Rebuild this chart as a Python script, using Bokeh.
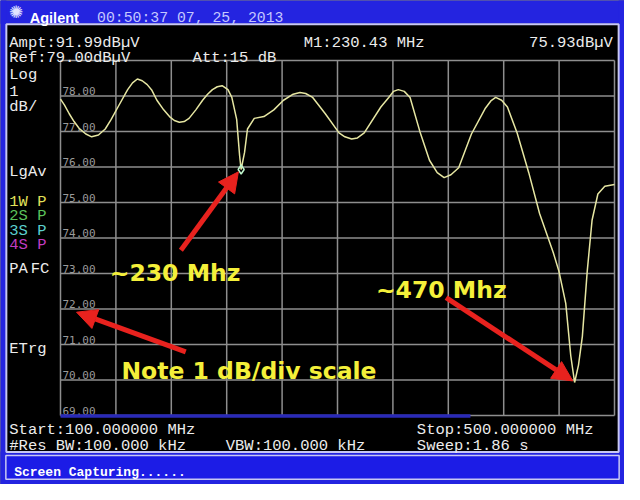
from bokeh.plotting import figure
from bokeh.models import Label, BoxAnnotation, Arrow, NormalHead, Range1d
from bokeh.embed import file_html
from bokeh.resources import INLINE
from bokeh.core.properties import value

# ---- data ----
freq_mhz = [100.0, 102.8, 106.3, 109.8, 113.4, 118.3, 122.5, 127.4, 132.3, 136.6,
            141.5, 148.5, 152.0, 155.5, 159.0, 162.6, 166.0, 169.6, 174.5, 178.7,
            182.2, 185.8, 189.3, 192.8, 197.7, 202.6, 206.2, 209.7, 213.2, 216.7,
            220.9, 223.7, 227.2, 229.3, 230.4, 232.9, 235.0, 239.9, 246.9, 254.0,
            261.0, 268.0, 272.9, 277.0, 282.1, 291.2, 301.1, 305.3, 310.2, 314.4,
            319.3, 331.3, 337.0, 340.4, 343.9, 348.2, 352.4, 359.4, 366.4, 372.0,
            377.0, 381.9, 387.5, 396.7, 406.5, 410.7, 414.2, 418.5, 422.7, 429.7,
            438.1, 445.9, 455.7, 459.9, 464.8, 468.4, 471.2, 474.0, 476.8, 480.3,
            483.8, 488.0, 493.0, 500.0]
level_dbuv = [77.91, 77.75, 77.50, 77.28, 77.09, 76.93, 76.85, 76.90, 77.07, 77.34,
              77.69, 78.18, 78.37, 78.48, 78.43, 78.32, 78.16, 77.88, 77.61, 77.42,
              77.31, 77.26, 77.28, 77.37, 77.61, 77.88, 78.05, 78.18, 78.26, 78.29,
              78.18, 77.96, 77.34, 76.33, 75.93, 76.41, 77.07, 77.37, 77.42, 77.61,
              77.88, 78.05, 78.10, 78.07, 77.96, 77.50, 76.96, 76.85, 76.79, 76.82,
              76.96, 77.69, 77.96, 78.13, 78.18, 78.13, 77.96, 77.01, 76.19, 75.84,
              75.70, 75.78, 75.98, 76.93, 77.64, 77.86, 77.96, 77.88, 77.69, 76.96,
              75.84, 74.69, 73.60, 73.06, 72.16, 70.69, 69.93, 70.42, 71.23, 73.06,
              74.50, 75.24, 75.46, 75.51]
marker_freq = [230.43]
marker_level = [75.93]
x_ticks = [100, 140, 180, 220, 260, 300, 340, 380, 420, 460, 500]
y_ticks = [69, 70, 71, 72, 73, 74, 75, 76, 77, 78, 79]
y_label_values = [78, 77, 76, 75, 74, 73, 72, 71, 70, 69]
y_label_texts = ["78.00", "77.00", "76.00", "75.00", "74.00", "73.00",
                 "72.00", "71.00", "70.00", "69.00"]

# ---- layout: the data frame covers the whole canvas; the graticule sits inside ----
W, H = 624, 484
SX, SY = W / 640, H / 500
GL, GR, GT, GB = 60, 614, 60, 415          # graticule box in canvas pixels
X0, X1, Y0, Y1 = x_ticks[0], x_ticks[-1], y_ticks[0], y_ticks[-1]


def dx(X):
    return X0 + (X * SX - GL) * (X1 - X0) / (GR - GL)


def dy(Y):
    return Y1 - (Y * SY - GT) * (Y1 - Y0) / (GB - GT)


p = figure(width=W, height=H, x_range=Range1d(dx(0), dx(640)),
           y_range=Range1d(dy(500), dy(0)),
           x_axis_type=None, y_axis_type=None, toolbar_location=None,
           output_backend="svg", min_border=0, min_border_left=0,
           min_border_right=0, min_border_top=0, min_border_bottom=0,
           background_fill_color="black", border_fill_color="black")
p.outline_line_color = None

# frame decoration (blue borders)
BLUE = "#2424e0"
LIGHT = "#c8c8f4"


def box(L, T, R, B, fill, line=None, lw=0):
    p.add_layout(BoxAnnotation(left=dx(L), right=dx(R), top=dy(T), bottom=dy(B),
                               fill_color=fill, fill_alpha=1 if fill else 0,
                               line_color=line, line_width=lw, line_alpha=1 if line else 0,
                               level="underlay"))


box(-20, -20, 660, 24, BLUE)
box(-20, -20, 6, 520, BLUE)
box(634, -20, 660, 520, BLUE)
box(-20, 466, 660, 520, BLUE)
box(6, 24.5, 634, 466.5, None, LIGHT, 2)
box(5.5, 470, 634.5, 494.5, "#1c1ce6", LIGHT, 1.5)

# graticule
GRID = "#8e8e8e"
p.segment(x0=x_ticks, y0=[Y0] * len(x_ticks), x1=x_ticks, y1=[Y1] * len(x_ticks),
          line_color=GRID, line_width=1.5)
p.segment(x0=[X0] * len(y_ticks), y0=y_ticks, x1=[X1] * len(y_ticks), y1=y_ticks,
          line_color=GRID, line_width=1.5)
# sweep progress bar at bottom of graticule
p.add_layout(BoxAnnotation(left=X0, right=dx(482), top=dy(427.5), bottom=dy(431),
                           fill_color="#2a2ab8", fill_alpha=1, line_alpha=0))

# y tick labels inside the graticule
p.text(x=[X0] * len(y_label_values), y=y_label_values, text=y_label_texts,
       x_offset=2, y_offset=-1, text_baseline="bottom", text_align="left",
       text_font=value("DejaVu Sans Mono"), text_font_size="11px",
       text_color="#9a9a9a")

# trace
p.line(freq_mhz, level_dbuv, line_color="#e6e6a2", line_width=1.5)
p.scatter(marker_freq, marker_level, marker="diamond", size=9,
          line_color="#bff5cc", fill_color=None, line_width=1.5)


def lab(X, Y, text, size, color, font="Liberation Mono", style="normal",
        align="left", baseline="alphabetic"):
    p.add_layout(Label(x=dx(X), y=dy(Y), text=text, text_font_size=f"{size}px",
                       text_color=color, text_font=font, text_font_style=style,
                       text_align=align, text_baseline=baseline))


WH = "#ececec"
MS = 15.5
# title bar
lab(16, 12, "\u273a", 17, "#e0e4ff", font="DejaVu Sans", align="center", baseline="middle")
lab(30, 18.5, "Agilent", 14.5, "white", font="Liberation Sans", style="bold")
lab(99, 18.5, "00:50:37 07, 25, 2013", 14.8, "#c4c8ff")
# header
lab(9, 44, "Ampt:91.99dB\u00b5V", MS, WH)
lab(9, 59, "Ref:79.00dB\u00b5V", MS, WH)
lab(197, 59, "Att:15 dB", MS, WH)
lab(311, 44, "M1:230.43 MHz", MS, WH)
lab(628, 44, "75.93dB\u00b5V", MS, WH, align="right")
# left side panel
lab(9, 77, "Log", MS, WH)
lab(9, 93, "1", MS, WH)
lab(9, 110, "dB/", MS, WH)
lab(9, 177, "LgAv", MS, WH)
lab(9, 208, "1W P", MS, "#e2e25a")
lab(9, 223, "2S P", MS, "#5cc25c")
lab(9, 238, "3S P", MS, "#5ccfcf")
lab(9, 253, "4S P", MS, "#c23cc2")
lab(9, 277, "PA", MS, WH)
lab(31, 277, "FC", MS, WH)
lab(9, 360, "ETrg", MS, WH)
# footer
lab(9, 444, "Start:100.000000 MHz", MS, WH)
lab(427, 444, "Stop:500.000000 MHz", MS, WH)
lab(9, 460, "#Res BW:100.000 kHz", MS, WH)
lab(231, 460, "VBW:100.000 kHz", MS, WH)
lab(427, 460, "Sweep:1.86 s", MS, WH)
lab(14, 488, "Screen Capturing......", 13, "white", style="bold")

# callouts
YEL = "#f4f03a"
AS = 23.5
lab(112, 282, "~230 Mhz", AS, YEL, font="DejaVu Sans", style="bold")
lab(385, 299, "~470 Mhz", AS, YEL, font="DejaVu Sans", style="bold")
lab(124, 383, "Note 1 dB/div scale", AS, YEL, font="DejaVu Sans", style="bold")

RED = "#e8221e"
for (xs, ys, xe, ye) in [(185, 258, 244, 177), (190, 363, 78, 322), (457, 307, 587, 393)]:
    p.add_layout(Arrow(end=NormalHead(size=20, fill_color=RED, line_color=RED),
                       x_start=dx(xs), y_start=dy(ys), x_end=dx(xe), y_end=dy(ye),
                       line_color=RED, line_width=5))

open("out.html", "w").write(file_html(p, INLINE))
